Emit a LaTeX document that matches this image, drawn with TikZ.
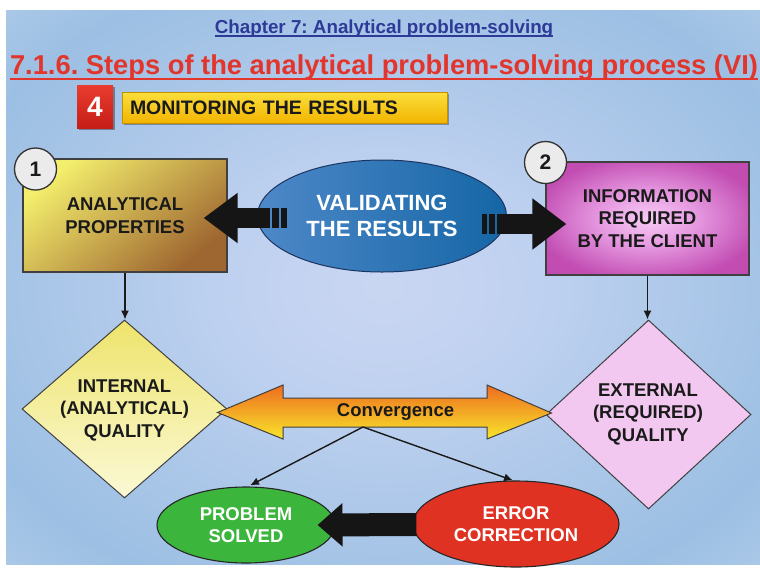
\documentclass[tikz,border=0pt]{standalone}
\usepackage{fontspec}
\setmainfont{Liberation Sans}
\usetikzlibrary{shapes.geometric,arrows.meta,shadows,calc}
\frenchspacing
\definecolor{chapblue}{HTML}{2D3A98}
\definecolor{titlered}{HTML}{E2362C}
\definecolor{txtdark}{HTML}{1A1A1A}
\definecolor{arrblack}{HTML}{151515}
\definecolor{navyline}{HTML}{1C3560}
\definecolor{valleft}{HTML}{4E88C8}
\definecolor{valright}{HTML}{1566A6}
\definecolor{apyel}{HTML}{F3EE6C}
\definecolor{apmid}{HTML}{E0CC56}
\definecolor{apbrown}{HTML}{9E6630}
\definecolor{iqtop}{HTML}{EEE46C}
\definecolor{iqbot}{HTML}{FBF9D6}
\definecolor{eqpink}{HTML}{F2C8F0}
\definecolor{convtop}{HTML}{EE6C1E}
\definecolor{convmid}{HTML}{F6B420}
\definecolor{convbot}{HTML}{F8E62C}
\definecolor{psgreen}{HTML}{3CB53C}
\definecolor{erred}{HTML}{E03222}
\definecolor{montop}{HTML}{FADF3C}
\definecolor{monbot}{HTML}{F3B400}
\definecolor{redtop}{HTML}{EA3C30}
\definecolor{redbot}{HTML}{C51E16}
\pgfdeclareradialshading{bgshade}{\pgfpoint{0bp}{0bp}}{%
 rgb(0bp)=(0.79,0.84,0.95);
 rgb(10bp)=(0.75,0.82,0.94);
 rgb(30bp)=(0.61,0.75,0.89);
 rgb(47bp)=(0.79,0.86,0.95);
 rgb(60bp)=(0.93,0.90,0.97);
 rgb(72bp)=(0.97,0.93,0.98)}
\pgfdeclareradialshading{magshade}{\pgfpoint{0bp}{0bp}}{%
 rgb(0bp)=(0.97,0.80,0.96);
 rgb(12bp)=(0.90,0.60,0.88);
 rgb(28bp)=(0.76,0.30,0.70);
 rgb(50bp)=(0.75,0.28,0.69)}
\begin{document}
\begin{tikzpicture}[x=1pt,y=-1pt,
  txt/.style={font=\fontsize{18.5}{22.5}\selectfont\bfseries, text=txtdark, align=center, inner sep=0pt},
  wtxt/.style={txt, text=white},
  apbox/.style={rectangle, draw=black!75, line width=1.2pt, minimum width=204pt, minimum height=113pt,
    top color=apyel, middle color=apmid, bottom color=apbrown, shading angle=40, txt},
  irbox/.style={rectangle, draw=black!75, line width=1.2pt, minimum width=203pt, minimum height=113pt,
    shading=magshade, txt},
  numc/.style={circle, draw=black!80, line width=1.3pt, fill=black!8, minimum size=42pt, inner sep=0pt,
    font=\fontsize{21}{21}\selectfont\bfseries, text=txtdark},
  valell/.style={ellipse, draw=navyline, line width=1pt, left color=valleft, right color=valright,
    minimum width=249pt, minimum height=112pt, inner sep=0pt, text=white, align=center,
    font=\fontsize{22}{26}\selectfont\bfseries},
  diam/.style={diamond, draw=black!75, line width=1pt, inner sep=0pt, minimum width=205pt},
  resell/.style={ellipse, draw=black!85, line width=1.1pt, inner sep=0pt, wtxt},
  thinarr/.style={draw=black!90, line width=1.4pt, -{Latex[length=9pt,width=8pt]}},
  bigarr/.style={draw=arrblack, line width=#1},
  redsq/.style={rectangle, minimum width=36pt, minimum height=43pt, top color=redtop, bottom color=redbot,
    text=white, font=\fontsize{28}{28}\selectfont\bfseries,
    drop shadow={shadow xshift=2pt, shadow yshift=-2pt, fill=black, opacity=0.35}},
  monbar/.style={rectangle, minimum width=325pt, minimum height=31pt, inner sep=8pt, text width=309pt, align=left,
    top color=montop, bottom color=monbot, draw=monbot!80!black, line width=0.4pt,
    font=\fontsize{19.5}{19.5}\selectfont\bfseries, text=txtdark,
    drop shadow={shadow xshift=2pt, shadow yshift=-2pt, fill=black, opacity=0.3}}
]
\useasboundingbox (0,0) rectangle (760,571);
\fill[white] (0,0) rectangle (760,571);
\shade[shading=bgshade] (6,10) rectangle (760,564);

% titles
\node[anchor=base, text=chapblue, font=\fontsize{18.8}{18.8}\selectfont\bfseries, inner sep=0pt] (chap) at (384,33) {Chapter 7: Analytical problem-solving};
\draw[chapblue, line width=1.3pt] ($(chap.base west)+(0,3)$) -- ($(chap.base east)+(0,3)$);
\node[anchor=base, text=titlered, font=\fontsize{27.3}{27.3}\selectfont\bfseries, inner sep=0pt] (title) at (384,74) {7.1.6. Steps of the analytical problem-solving process (VI)};
\draw[titlered, line width=2pt] ($(title.base west)+(0,4.5)$) -- ($(title.base east)+(0,4.5)$);

% step 4 banner
\node[redsq] (four) at (95,106.5) {4};
\node[monbar] (mon) at (284.5,107.5) {MONITORING THE RESULTS};

% top row
\node[apbox] (ap) at (125,215.5) {ANALYTICAL\\PROPERTIES};
\node[irbox] (ir) at (647.5,218.5) {INFORMATION\\REQUIRED\\BY THE CLIENT};
\node[numc] (n1) at (35.5,169) {1};
\node[numc] (n2) at (545.5,162.5) {2};
\node[valell] (val) at (382,216) {VALIDATING\\THE RESULTS};

% big black arrows from the ellipse
\coordinate (lt) at ($(val.west)+(13,2)$);
\coordinate (rt) at ($(val.east)+(-10,8)$);
\draw[bigarr=20pt, -{Triangle[length=34pt,width=48pt]}] (lt) -- ($(ap.east)+(-24,2.5)$);
\fill[arrblack] ($(lt)+(2,-10)$) rectangle ($(lt)+(9,10)$);
\fill[arrblack] ($(lt)+(11,-10)$) rectangle ($(lt)+(17,10)$);
\draw[bigarr=20pt, -{Triangle[length=34pt,width=49pt]}] (rt) -- ($(ir.west)+(21,5.5)$);
\fill[arrblack] ($(rt)+(-2,-10)$) rectangle ($(rt)+(-8,10)$);
\fill[arrblack] ($(rt)+(-10,-10)$) rectangle ($(rt)+(-15,10)$);

% diamonds
\node[diam, minimum height=178pt, aspect=1.15, top color=iqtop, bottom color=iqbot] (iq) at (124.5,409) {};
\node[txt] (iqt) at (124.5,410) {INTERNAL\\(ANALYTICAL)\\QUALITY};
\node[diam, minimum height=189pt, aspect=1.08, fill=eqpink] (eq) at (648.5,414.5) {};
\node[txt] (eqt) at (648,414) {EXTERNAL\\(REQUIRED)\\QUALITY};

\draw[thinarr] (ap.south) -- (ap.south |- iq.north);
\draw[thinarr] (ir.south) -- (ir.south |- eq.north);

% convergence double arrow
\coordinate (cl) at ($(iq.east)+(-10,3.5)$);
\coordinate (cr) at ($(eq.west)+(6,-1.5)$);
\shade[draw=black!75, line width=1pt, top color=convtop, middle color=convmid, bottom color=convbot]
  (cl) -- (283,385) -- (283,398) -- (487,398) -- (487,385) -- (cr) -- (487,439) -- (487,427)
  -- (283,427) -- (283,439) -- cycle;
\node[txt] (conv) at (395.5,412) {Convergence};

% outcomes
\node[resell, fill=psgreen, minimum width=178pt, minimum height=76pt] (ps) at (246,525) {PROBLEM\\SOLVED};
\node[resell, fill=erred, minimum width=206pt, minimum height=86pt] (er) at (516,524) {ERROR\\CORRECTION};

\coordinate (split) at (363,427);
\draw[thinarr] (split) -- ($(ps.north)+(4,-1)$);
\draw[thinarr] (split) -- ($(er.north)+(-3,0)$);

\draw[bigarr=23pt, -{Triangle[length=25pt,width=42pt]}] ($(er.west)+(4,0.5)$) -- ($(ps.east)+(-18,0)$);
\end{tikzpicture}
\end{document}
